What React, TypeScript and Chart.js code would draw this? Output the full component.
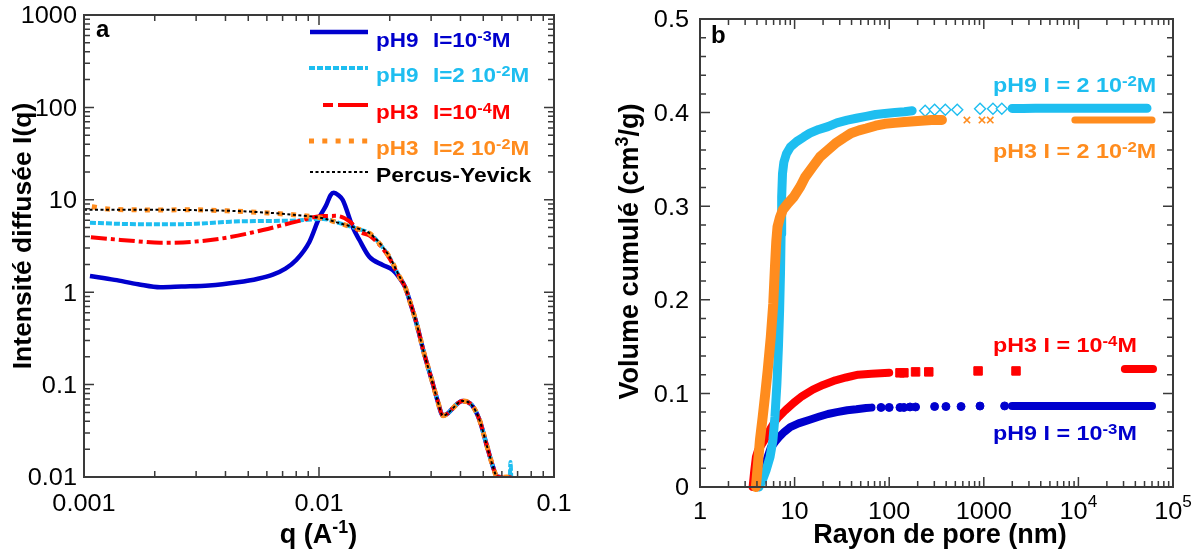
import React, { useEffect, useRef } from "react";
import { Chart, registerables } from "chart.js";

Chart.register(...registerables);

const FONT = '"Liberation Sans", Arial, Helvetica, sans-serif';

const BLUE = "#0000CD";
const CYAN = "#1EBEF0";
const RED = "#FF0000";
const ORANGE = "#FF8C1E";
const BLACK = "#000000";
const FRAME = "#3a3a3a";

// ---------------- Panel a : scattered intensity I(q) ----------------
const qBlue = [0.00106, 0.00135, 0.0017, 0.00211, 0.0026, 0.0034, 0.0045, 0.0055, 0.00636, 0.0072, 0.008, 0.0091, 0.01005, 0.0107, 0.0112, 0.01156, 0.0121, 0.01262, 0.0139, 0.01486, 0.01637, 0.01866, 0.0206, 0.022, 0.0232];
const iBlue = [1.5, 1.36, 1.22, 1.13, 1.15, 1.18, 1.28, 1.4, 1.55, 1.8, 2.23, 3.5, 6.5, 8.6, 11.2, 11.9, 11.2, 9.96, 5.1, 3.67, 2.42, 1.97, 1.74, 1.43, 1.15];

const qCyan = [0.00106, 0.0014, 0.0021, 0.003, 0.0042, 0.006, 0.008, 0.0104, 0.0122, 0.0144, 0.0164, 0.0182, 0.0199, 0.022, 0.0232];
const iCyan = [5.65, 5.5, 5.43, 5.5, 5.8, 5.9, 5.96, 6.2, 5.6, 4.9, 4.33, 3.3, 2.42, 1.47, 1.15];

const qRed = [0.00107, 0.00135, 0.0017, 0.00211, 0.00285, 0.00415, 0.00577, 0.008, 0.0104, 0.01185, 0.01355, 0.01486, 0.0164, 0.0182, 0.0199, 0.022, 0.0232];
const iRed = [3.93, 3.73, 3.55, 3.43, 3.5, 3.93, 4.71, 5.8, 6.68, 6.7, 5.8, 4.52, 4.1, 3.2, 2.35, 1.45, 1.15];

const qOrange = [0.00108, 0.0013, 0.0016, 0.002, 0.0028, 0.0042, 0.0058, 0.008, 0.0104, 0.0122, 0.0144, 0.0164, 0.0182, 0.0199, 0.022, 0.0232];
const iOrange = [8.4, 7.9, 7.8, 7.75, 7.8, 7.57, 7.25, 6.84, 6.3, 5.57, 4.9, 4.33, 3.3, 2.42, 1.47, 1.15];

const qPY = [0.001, 0.0013, 0.0016, 0.002, 0.0028, 0.0042, 0.0058, 0.008, 0.0104, 0.0122, 0.0144, 0.0164, 0.0182, 0.0199, 0.022, 0.0232];
const iPY = [7.8, 7.8, 7.8, 7.8, 7.75, 7.6, 7.3, 6.85, 6.3, 5.6, 4.95, 4.35, 3.35, 2.45, 1.48, 1.15];

// common high-q part shared by all curves
const qTail = [0.0245, 0.026, 0.028, 0.0302, 0.0319, 0.0337, 0.0354, 0.0371, 0.0407, 0.0447, 0.0482, 0.0519, 0.055, 0.057];
const iTail = [0.76, 0.46, 0.218, 0.112, 0.068, 0.046, 0.049, 0.0555, 0.0666, 0.06, 0.0414, 0.0214, 0.0129, 0.0102];

// last points of each curve (on / below the 0.01 floor)
const qEndBlue = [0.0595];
const iEndBlue = [0.0099];
const qEndCyan = [0.0595, 0.0648, 0.0653, 0.0658];
const iEndCyan = [0.0099, 0.0099, 0.0145, 0.0099];
const qEndRed = [0.0595, 0.066];
const iEndRed = [0.0099, 0.0099];
const qEndOrange = [0.0595, 0.0665];
const iEndOrange = [0.0099, 0.0099];
const qEndPY = [0.0595, 0.076];
const iEndPY = [0.0099, 0.0099];

const aXTickVals = [0.001, 0.01, 0.1];
const aXTickLabels = ["0.001", "0.01", "0.1"];
const aYTickVals = [0.01, 0.1, 1, 10, 100, 1000];
const aYTickLabels = ["0.01", "0.1", "1", "10", "100", "1000"];

const legendNames = ["pH9", "pH9", "pH3", "pH3"];
const legendIons = ["I=10^{-3}M", "I=2 10^{-2}M", "I=10^{-4}M", "I=2 10^{-2}M"];
const legendPY = "Percus-Yevick";

// ---------------- Panel b : cumulative pore volume ----------------
const cyanRiseR = [4.2, 4.6, 5.0, 5.5, 5.9, 6.2, 6.5, 6.75, 6.95, 7.1, 7.2, 7.3, 7.45, 7.7, 8.2, 9.0, 10.5, 12.5, 14.5, 18, 22.5, 28, 36, 45, 57, 72, 90, 115, 145, 175];
const cyanRiseV = [0, 0.008, 0.018, 0.032, 0.05, 0.075, 0.11, 0.15, 0.19, 0.23, 0.27, 0.31, 0.335, 0.347, 0.356, 0.363, 0.369, 0.374, 0.378, 0.382, 0.385, 0.389, 0.392, 0.394, 0.396, 0.398, 0.399, 0.4, 0.401, 0.402];
const cyanSparseR = [240, 302, 392, 524, 913, 1250, 1550];
const cyanSparseV = [0.402, 0.403, 0.403, 0.403, 0.404, 0.404, 0.404];
const cyanPlatR = [1990, 2600, 3500, 5000, 8000, 12000, 20000, 35000, 53100];
const cyanPlatV = [0.4045, 0.4045, 0.4046, 0.4046, 0.4046, 0.4046, 0.4046, 0.4046, 0.4046];

const orangeRiseR = [3.9, 4.1, 4.3, 4.6, 4.9, 5.2, 5.6, 5.95, 6.2, 6.4, 6.6, 7.0, 7.5, 8.5, 9.8, 11.5, 12.9, 15.5, 18.7, 22.5, 27, 33, 39.4, 48, 57, 72, 90, 115, 144, 200, 280, 361];
const orangeRiseV = [0, 0.025, 0.05, 0.075, 0.1, 0.125, 0.16, 0.196, 0.235, 0.262, 0.278, 0.288, 0.296, 0.303, 0.31, 0.321, 0.331, 0.342, 0.353, 0.36, 0.367, 0.373, 0.378, 0.381, 0.383, 0.386, 0.388, 0.389, 0.39, 0.391, 0.392, 0.392];
const orangeSparseR = [663, 957, 1170];
const orangeSparseV = [0.392, 0.392, 0.392];
const orangePlatR = [9180, 12000, 18000, 27000, 40000, 60000];
const orangePlatV = [0.392, 0.392, 0.392, 0.392, 0.392, 0.392];

const redRiseR = [3.6, 3.75, 3.9, 4.1, 4.4, 4.8, 5.2, 5.6, 6.2, 6.8, 8.0, 9.8, 12, 15.6, 20, 27, 35, 47, 65, 100];
const redRiseV = [0, 0.018, 0.032, 0.039, 0.044, 0.05, 0.057, 0.063, 0.07, 0.075, 0.082, 0.09, 0.097, 0.104, 0.109, 0.114, 0.117, 0.12, 0.121, 0.122];
const redSparseR = [130, 143, 190, 262, 870, 2190];
const redSparseV = [0.122, 0.122, 0.123, 0.123, 0.124, 0.124];
const redPlatR = [31000, 40000, 50000, 61500];
const redPlatV = [0.126, 0.126, 0.126, 0.126];

const blueRiseR = [4.0, 4.3, 4.6, 5.1, 5.6, 6.2, 6.8, 7.8, 9.0, 11, 14.2, 18, 22.5, 28, 36, 45, 57, 65];
const blueRiseV = [0, 0.008, 0.016, 0.03, 0.042, 0.048, 0.053, 0.059, 0.064, 0.068, 0.0716, 0.075, 0.078, 0.08, 0.082, 0.083, 0.0844, 0.0848];
const blueSparseR = [82, 100, 130, 143, 166, 190, 302, 398, 575, 912, 1660];
const blueSparseV = [0.085, 0.085, 0.085, 0.085, 0.0855, 0.0855, 0.086, 0.086, 0.086, 0.0865, 0.0866];
const bluePlatR = [1990, 3000, 5000, 9000, 15000, 25000, 40000, 60000];
const bluePlatV = [0.0866, 0.0866, 0.0866, 0.0866, 0.0866, 0.0866, 0.0866, 0.0866];

const bXTickVals = [1, 10, 100, 1000, 10000, 100000];
const bXTickLabels = ["1", "10", "100", "1000", "10^{4}", "10^{5}"];
const bYTickVals = [0, 0.1, 0.2, 0.3, 0.4, 0.5];
const bYTickLabels = ["0", "0.1", "0.2", "0.3", "0.4", "0.5"];

const bNotes = ["pH9 I = 2 10^{-2}M", "pH3 I = 2 10^{-2}M", "pH3 I = 10^{-4}M", "pH9 I = 10^{-3}M"];

// ---------------- helpers ----------------
const pts = (xs: number[], ys: number[]) => xs.map((x, i) => ({ x, y: ys[i] }));

type Seg = { t: string; sup: boolean };
function parseRich(s: string): Seg[] {
  const out: Seg[] = [];
  const re = /\^\{([^}]*)\}/g;
  let last = 0;
  let m: RegExpExecArray | null;
  while ((m = re.exec(s))) {
    if (m.index > last) out.push({ t: s.slice(last, m.index), sup: false });
    out.push({ t: m[1], sup: true });
    last = re.lastIndex;
  }
  if (last < s.length) out.push({ t: s.slice(last), sup: false });
  return out;
}

interface TS {
  size: number;
  bold?: boolean;
  color?: string;
  sx?: number;
  supScale?: number;
  supRise?: number;
}

function drawRich(ctx: CanvasRenderingContext2D, s: string, x: number, y: number, st: TS, align: "left" | "center" | "right" = "left") {
  const segs = parseRich(s);
  const sx = st.sx ?? 1;
  const supSize = st.size * (st.supScale ?? 0.7);
  const fontOf = (sz: number) => `${st.bold ? "bold " : ""}${sz}px ${FONT}`;
  let total = 0;
  const widths = segs.map((sg) => {
    ctx.font = fontOf(sg.sup ? supSize : st.size);
    const w = ctx.measureText(sg.t).width;
    total += w;
    return w;
  });
  const x0 = align === "center" ? -total / 2 : align === "right" ? -total : 0;
  ctx.save();
  ctx.translate(x, y);
  ctx.scale(sx, 1);
  ctx.fillStyle = st.color ?? "#000";
  ctx.textAlign = "left";
  ctx.textBaseline = "alphabetic";
  let cx = x0;
  segs.forEach((sg, i) => {
    ctx.font = fontOf(sg.sup ? supSize : st.size);
    ctx.fillText(sg.t, cx, sg.sup ? -st.size * (st.supRise ?? 0.32) : 0);
    cx += widths[i];
  });
  ctx.restore();
  return total * sx;
}

function drawRotated(ctx: CanvasRenderingContext2D, s: string, x: number, y: number, st: TS) {
  ctx.save();
  ctx.translate(x, y);
  ctx.rotate(-Math.PI / 2);
  drawRich(ctx, s, 0, 0, st, "center");
  ctx.restore();
}

function logTicks(min: number, max: number) {
  const out: { v: number; major: boolean }[] = [];
  for (let e = Math.floor(Math.log10(min)); e <= Math.ceil(Math.log10(max)); e++) {
    for (let m = 1; m <= 9; m++) {
      const v = m * Math.pow(10, e);
      if (v >= min * 0.9999 && v <= max * 1.0001) out.push({ v, major: m === 1 });
    }
  }
  return out;
}

function drawFrame(ctx: CanvasRenderingContext2D, chart: any, xt: { v: number; major: boolean }[], yt: { v: number; major: boolean }[]) {
  const ca = chart.chartArea;
  const xs = chart.scales.x;
  const ys = chart.scales.y;
  ctx.save();
  ctx.strokeStyle = FRAME;
  ctx.lineWidth = 1.5;
  ctx.beginPath();
  xt.forEach(({ v, major }) => {
    const p = xs.getPixelForValue(v);
    const len = major ? 10 : 6;
    ctx.moveTo(p, ca.bottom);
    ctx.lineTo(p, ca.bottom - len);
    ctx.moveTo(p, ca.top);
    ctx.lineTo(p, ca.top + len);
  });
  yt.forEach(({ v, major }) => {
    const p = ys.getPixelForValue(v);
    const len = major ? 10 : 6;
    ctx.moveTo(ca.left, p);
    ctx.lineTo(ca.left + len, p);
    ctx.moveTo(ca.right, p);
    ctx.lineTo(ca.right - len, p);
  });
  ctx.stroke();
  ctx.lineWidth = 2;
  ctx.strokeRect(ca.left, ca.top, ca.right - ca.left, ca.bottom - ca.top);
  ctx.restore();
}

const TICK: TS = { size: 23, sx: 1.1, supScale: 0.68, supRise: 0.54 };
const TITLE: TS = { size: 27, bold: true, supScale: 0.66, supRise: 0.37 };
const YTITLE: TS = { size: 26.5, bold: true, supScale: 0.66, supRise: 0.37 };

// ---------------- panel a config ----------------
function configA(): any {
  const line = (q: number[], i: number[], qe: number[], ie: number[], color: string, width: number, dash: number[]) => ({
    data: [...pts(q, i), ...pts(qTail, iTail), ...pts(qe, ie)],
    borderColor: color,
    backgroundColor: color,
    borderWidth: width,
    borderDash: dash,
    pointRadius: 0,
    fill: false,
    cubicInterpolationMode: "monotone",
  });
  const plugin = {
    id: "decorA",
    afterDatasetsDraw(chart: any) {
      const ctx: CanvasRenderingContext2D = chart.ctx;
      const xs = chart.scales.x;
      const ys = chart.scales.y;
      drawFrame(ctx, chart, logTicks(0.001, 0.1), logTicks(0.01, 1000));
      aXTickVals.forEach((v, k) => drawRich(ctx, aXTickLabels[k], xs.getPixelForValue(v), 511, TICK, "center"));
      aYTickVals.forEach((v, k) => drawRich(ctx, aYTickLabels[k], 77, ys.getPixelForValue(v) + 8.3, TICK, "right"));
      drawRich(ctx, "q (A^{-1})", 318.5, 543, TITLE, "center");
      drawRotated(ctx, "Intensité diffusée I(q)", 30.5, 236, YTITLE);
      drawRich(ctx, "a", 96, 37, { size: 24, bold: true });
      // legend
      const colors = [BLUE, CYAN, RED, ORANGE];
      const widths = [4.5, 4, 4, 5];
      const dashes = [[], [6, 2], [10, 5, 40], [5, 8.3]];
      const lineY = [32, 68, 105, 141];
      const lineX0 = [310, 309, 323, 309];
      const baseY = [47, 82, 119, 155];
      const LEG: TS = { size: 21, bold: true, sx: 1.07, supScale: 0.72, supRise: 0.3 };
      ctx.save();
      for (let k = 0; k < 4; k++) {
        ctx.strokeStyle = colors[k];
        ctx.lineWidth = widths[k];
        ctx.setLineDash(dashes[k]);
        ctx.beginPath();
        ctx.moveTo(lineX0[k], lineY[k]);
        ctx.lineTo(368, lineY[k]);
        ctx.stroke();
        drawRich(ctx, legendNames[k], 376, baseY[k], { ...LEG, color: colors[k] });
        drawRich(ctx, legendIons[k], 433, baseY[k], { ...LEG, color: colors[k] });
      }
      ctx.strokeStyle = BLACK;
      ctx.lineWidth = 2;
      ctx.setLineDash([3, 2.5]);
      ctx.beginPath();
      ctx.moveTo(310, 172);
      ctx.lineTo(368, 172);
      ctx.stroke();
      ctx.setLineDash([]);
      ctx.restore();
      drawRich(ctx, legendPY, 376, 182, { ...LEG, sx: 1.09, color: BLACK });
    },
  };
  return {
    type: "line",
    data: {
      datasets: [
        line(qPY, iPY, qEndPY, iEndPY, BLACK, 2, [3, 2.5]),
        line(qOrange, iOrange, qEndOrange, iEndOrange, ORANGE, 5, [5, 8.3]),
        line(qRed, iRed, qEndRed, iEndRed, RED, 4, [16, 4, 4, 4]),
        line(qCyan, iCyan, qEndCyan, iEndCyan, CYAN, 4, [6, 2]),
        line(qBlue, iBlue, qEndBlue, iEndBlue, BLUE, 4.5, []),
      ],
    },
    options: {
      responsive: false,
      animation: false,
      events: [],
      layout: { padding: { left: 0, top: 15, right: 44, bottom: 0 }, autoPadding: false },
      scales: {
        x: {
          type: "logarithmic",
          min: 0.001,
          max: 0.1,
          ticks: { display: false },
          grid: { display: false, drawTicks: false },
          border: { display: false },
          afterFit: (s: any) => { s.height = 74; },
        },
        y: {
          type: "logarithmic",
          min: 0.01,
          max: 1000,
          ticks: { display: false },
          grid: { display: false, drawTicks: false },
          border: { display: false },
          afterFit: (s: any) => { s.width = 84; },
        },
      },
      plugins: { legend: { display: false }, tooltip: { enabled: false } },
    },
    plugins: [plugin],
  };
}

// ---------------- panel b config ----------------
function configB(): any {
  const curve = (r: number[], v: number[], color: string, width: number) => ({
    data: pts(r, v),
    showLine: true,
    borderColor: color,
    backgroundColor: color,
    borderWidth: width,
    borderCapStyle: "round",
    borderJoinStyle: "round",
    pointRadius: 0,
    fill: false,
    clip: false,
  });
  const marks = (r: number[], v: number[], color: string, style: string, radius: number, filled: boolean, bw: number) => ({
    data: pts(r, v),
    showLine: false,
    pointStyle: style,
    pointRadius: radius,
    pointBorderColor: color,
    pointBackgroundColor: filled ? color : "#ffffff",
    pointBorderWidth: bw,
    clip: false,
  });
  const plugin = {
    id: "decorB",
    afterDatasetsDraw(chart: any) {
      const ctx: CanvasRenderingContext2D = chart.ctx;
      const xs = chart.scales.x;
      const ys = chart.scales.y;
      const yt: { v: number; major: boolean }[] = [];
      for (let k = 0; k <= 25; k++) yt.push({ v: k * 0.02, major: k % 5 === 0 });
      drawFrame(ctx, chart, logTicks(1, 100000), yt);
      bXTickVals.forEach((v, k) => drawRich(ctx, bXTickLabels[k], xs.getPixelForValue(v), 519, TICK, "center"));
      bYTickVals.forEach((v, k) => drawRich(ctx, bYTickLabels[k], 91, ys.getPixelForValue(v) + 8.3, TICK, "right"));
      drawRich(ctx, "Rayon de pore (nm)", 342, 543, TITLE, "center");
      drawRotated(ctx, "Volume cumulé (cm^{3}/g)", 40, 251.5, { ...YTITLE, size: 27 });
      drawRich(ctx, "b", 113, 43, { size: 24, bold: true });
      const NOTE: TS = { size: 21, bold: true, sx: 1.11, supScale: 0.72, supRise: 0.3 };
      const cols = [CYAN, ORANGE, RED, BLUE];
      const ys2 = [92, 158, 352, 440];
      bNotes.forEach((t, k) => drawRich(ctx, t, 395, ys2[k], { ...NOTE, color: cols[k] }));
    },
  };
  return {
    type: "scatter",
    data: {
      datasets: [
        curve(orangeRiseR, orangeRiseV, ORANGE, 10),
        marks(orangeSparseR, orangeSparseV, ORANGE, "crossRot", 4.5, false, 1.6),
        curve(orangePlatR, orangePlatV, ORANGE, 7),
        curve(cyanRiseR, cyanRiseV, CYAN, 9),
        marks(cyanSparseR, cyanSparseV, CYAN, "rectRot", 5.5, false, 1.4),
        curve(cyanPlatR, cyanPlatV, CYAN, 9),
        curve(redRiseR, redRiseV, RED, 8),
        marks(redSparseR, redSparseV, RED, "rect", 6, true, 1),
        curve(redPlatR, redPlatV, RED, 8),
        curve(blueRiseR, blueRiseV, BLUE, 8),
        marks(blueSparseR, blueSparseV, BLUE, "circle", 4, true, 1),
        curve(bluePlatR, bluePlatV, BLUE, 8),
      ],
    },
    options: {
      responsive: false,
      animation: false,
      events: [],
      layout: { padding: { left: 0, top: 19, right: 23, bottom: 0 }, autoPadding: false },
      scales: {
        x: {
          type: "logarithmic",
          min: 1,
          max: 100000,
          ticks: { display: false },
          grid: { display: false, drawTicks: false },
          border: { display: false },
          afterFit: (s: any) => { s.height = 64; },
        },
        y: {
          type: "linear",
          min: 0,
          max: 0.5,
          ticks: { display: false },
          grid: { display: false, drawTicks: false },
          border: { display: false },
          afterFit: (s: any) => { s.width = 102; },
        },
      },
      plugins: { legend: { display: false }, tooltip: { enabled: false } },
    },
    plugins: [plugin],
  };
}

export default function App() {
  const refA = useRef<HTMLCanvasElement>(null);
  const refB = useRef<HTMLCanvasElement>(null);
  useEffect(() => {
    const a = new Chart(refA.current as HTMLCanvasElement, configA());
    const b = new Chart(refB.current as HTMLCanvasElement, configB());
    return () => {
      a.destroy();
      b.destroy();
    };
  }, []);
  return (
    <div style={{ position: "fixed", left: 0, top: 0, width: 1196, height: 551, background: "#ffffff" }}>
      <canvas ref={refA} width={598} height={551} style={{ position: "absolute", left: 0, top: 0 }} />
      <canvas ref={refB} width={598} height={551} style={{ position: "absolute", left: 598, top: 0 }} />
    </div>
  );
}
